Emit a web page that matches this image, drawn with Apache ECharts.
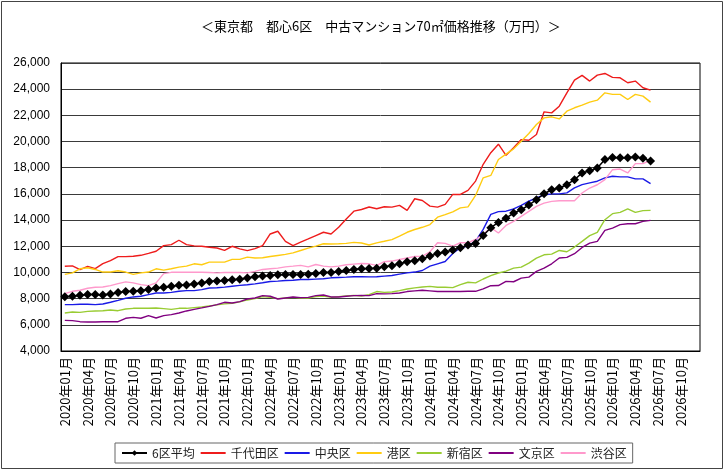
<!DOCTYPE html>
<html>
<head>
<meta charset="utf-8">
<script src="https://cdn.jsdelivr.net/npm/echarts@6/dist/echarts.min.js"></script>
<style>
  html, body { margin: 0; padding: 0; background: #fff; }
  #chart { width: 725px; height: 471px; }
</style>
</head>
<body>
<div id="chart"></div>
<script>
// 2020年01月 ～ 2026年12月 の月次カテゴリ
const months = []
for (let y = 2020; y <= 2026; y++) {
  for (let m = 1; m <= 12; m++) {
    months.push(y + '年' + (m < 10 ? '0' + m : m) + '月')
  }
}

// 2020年01月 ～ 2026年06月 (万円)
const avg6 = [8150,8180,8260,8310,8310,8280,8360,8460,8540,8560,
  8610,8690,8820,8870,8940,9020,9050,9120,9200,9300,
  9340,9390,9440,9490,9570,9670,9720,9770,9820,9850,
  9850,9850,9870,9920,10000,10000,10080,10150,10230,10280,
  10300,10330,10430,10510,10660,10820,10890,11050,11250,11450,
  11560,11710,11890,12090,12220,12830,13420,13820,14150,14540,
  14790,15150,15560,16010,16320,16450,16700,17090,17600,17770,
  17980,18620,18790,18770,18770,18820,18720,18510]
const chiyoda = [10470,10500,10220,10470,10290,10670,10900,11210,11210,11240,
  11310,11460,11620,12050,12130,12460,12130,12030,12000,11930,
  11870,11690,12000,11800,11670,11820,12050,12940,13150,12380,
  12050,12310,12560,12820,13070,12940,13450,14090,14680,14810,
  15000,14870,15020,14990,15120,14740,15630,15500,15070,14990,
  15200,15960,15960,16270,16980,18260,19150,19800,18950,19520,
  20150,20100,20540,22270,22190,22700,23720,24690,25050,24620,
  25070,25200,24900,24870,24490,24620,24110,23930]
const chuo = [7540,7540,7570,7570,7540,7590,7720,7870,8030,8130,
  8180,8310,8430,8430,8480,8560,8610,8610,8690,8810,
  8830,8880,8950,9010,9060,9130,9210,9310,9340,9390,
  9410,9460,9460,9490,9520,9590,9620,9640,9670,9670,
  9660,9670,9720,9770,9870,9970,10030,10150,10480,10660,
  10840,11450,11890,12010,12400,13290,14440,14650,14680,14850,
  15130,15440,15690,15920,16000,16000,16080,16460,16710,16840,
  16970,17220,17350,17300,17300,17150,17150,16790]
const minato = [9850,9970,10280,10360,10230,10030,10030,10130,10030,9850,
  9970,10030,10280,10180,10280,10410,10480,10660,10590,10790,
  10790,10790,11000,11000,11170,11100,11120,11220,11300,11380,
  11500,11680,11860,12010,12190,12170,12190,12220,12300,12250,
  12100,12260,12380,12510,12770,13070,13280,13450,13660,14220,
  14420,14630,14930,15010,15880,17230,17410,18630,19040,19440,
  20030,20610,21300,21810,21890,21730,22320,22580,22780,23010,
  23160,23720,23600,23600,23210,23600,23470,23010]
const shinjuku = [6900,6980,6950,7030,7060,7080,7130,7080,7210,7260,
  7260,7260,7290,7240,7180,7260,7260,7310,7360,7440,
  7520,7600,7650,7750,7900,8000,8150,8100,8000,8050,
  8100,8050,8050,8150,8200,8100,8150,8200,8250,8200,
  8310,8540,8480,8510,8610,8740,8820,8890,8940,8870,
  8870,8840,9070,9250,9200,9500,9760,9960,10100,10330,
  10410,10710,11100,11350,11400,11680,11580,11940,12370,12810,
  13060,14030,14490,14590,14850,14590,14720,14740]
const bunkyo = [6340,6320,6240,6220,6220,6240,6240,6240,6500,6570,
  6500,6700,6520,6700,6780,6900,7060,7180,7290,7410,
  7540,7720,7670,7770,7970,8050,8230,8180,7970,8050,
  8130,8080,8100,8230,8280,8130,8130,8180,8230,8240,
  8230,8380,8360,8380,8430,8540,8590,8640,8590,8540,
  8540,8540,8540,8560,8560,8740,8990,9000,9320,9290,
  9570,9640,10080,10330,10660,11100,11150,11430,11910,12240,
  12370,13210,13390,13650,13720,13720,13900,13980]
const shibuya = [8380,8560,8640,8790,8870,8890,8990,9150,9280,9200,
  9070,8990,9200,9910,10010,10010,10010,10010,10010,10000,
  9970,10000,10000,10000,9970,10080,10230,10280,10330,10430,
  10480,10540,10430,10610,10480,10430,10480,10590,10640,10680,
  10660,10540,10820,10870,10990,11100,11220,11250,11580,12270,
  12220,12010,12270,12270,12520,12910,13420,13010,13590,13900,
  14280,14660,15050,15300,15430,15480,15480,15480,16070,16450,
  16700,17090,17850,17900,17600,18310,18310,18560]

const jp = '"Noto Sans CJK JP", sans-serif'

const line = (name, data, color) => ({
  name, type: 'line', data,
  symbol: 'none',
  lineStyle: { color, width: 1.4 },
  itemStyle: { color }
})
// 色付きの線は凡例に記号を出さない
const noMark = (name) => ({ name, itemStyle: { opacity: 0 } })

const chart = echarts.init(document.getElementById('chart'))
chart.setOption({
  animation: false,
  backgroundColor: '#fff',
  title: {
    text: '＜東京都　都心6区　中古マンション70㎡価格推移（万円）＞',
    left: 196, top: 15,
    textStyle: { fontFamily: jp, fontSize: 13, fontWeight: 'normal', color: '#000' }
  },
  graphic: [{
    type: 'rect', shape: { x: 1.5, y: 1.5, width: 721, height: 467 },
    style: { fill: 'none', stroke: '#444', lineWidth: 1 }, silent: true, z: -1
  }],
  grid: {
    left: 61, right: 25, top: 63, bottom: 120,
    show: true, borderColor: '#000', borderWidth: 1
  },
  legend: {
    left: 115, top: 443,
    itemWidth: 25, itemHeight: 7, itemGap: 5,
    padding: [4, 6, 4, 6],
    borderColor: '#666', borderWidth: 1,
    textStyle: { fontFamily: jp, fontSize: 12, color: '#222' },
    data: ['6区平均', noMark('千代田区'), noMark('中央区'), noMark('港区'),
      noMark('新宿区'), noMark('文京区'), noMark('渋谷区')]
  },
  xAxis: {
    type: 'category', data: months, boundaryGap: true,
    axisLine: { lineStyle: { color: '#000', width: 1 } },
    axisTick: { inside: true, interval: 2, length: 4, lineStyle: { color: '#000' } },
    axisLabel: {
      interval: 2, rotate: 90, margin: 6,
      fontFamily: jp, fontSize: 13, color: '#000'
    }
  },
  yAxis: {
    type: 'value', min: 4000, max: 26000, interval: 2000,
    axisLine: { show: true, lineStyle: { color: '#000' } },
    axisTick: { show: false },
    splitLine: { lineStyle: { color: '#3a3a3a', width: 1 } },
    axisLabel: {
      margin: 11, fontFamily: '"Liberation Sans", Arial, sans-serif', fontSize: 12, color: '#000',
      formatter: (v) => v.toLocaleString('en-US')
    }
  },
  series: [
    line('千代田区', chiyoda, '#ee1c1c'),
    line('中央区', chuo, '#1a1ae6'),
    line('港区', minato, '#ffcc11'),
    line('新宿区', shinjuku, '#99cc33'),
    line('文京区', bunkyo, '#800080'),
    line('渋谷区', shibuya, '#ff99cc'),
    {
      name: '6区平均', type: 'line', data: avg6, z: 5,
      symbol: 'diamond', symbolSize: 9, showSymbol: true, showAllSymbol: true,
      lineStyle: { color: '#000', width: 1.5 },
      itemStyle: { color: '#000' }
    }
  ]
})
</script>
</body>
</html>
